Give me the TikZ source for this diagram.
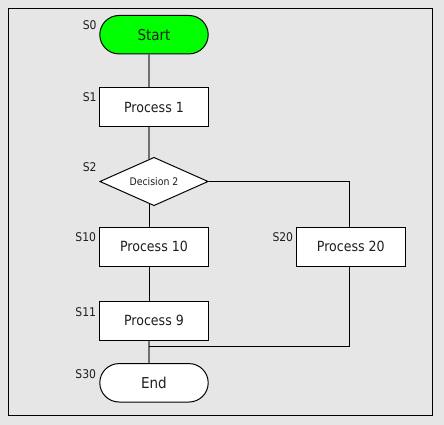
\documentclass[tikz,border=0pt]{standalone}
\usepackage{fontspec}
\setmainfont{DejaVu Sans Condensed}
\usetikzlibrary{shapes.geometric}
\definecolor{fondo}{HTML}{E6E6E6}
\definecolor{verde}{HTML}{00FF00}
\definecolor{linea}{HTML}{707070}
\definecolor{texto}{HTML}{1E1E1E}
\tikzset{
  caja/.style={draw=black, line width=1pt, fill=white, inner sep=0pt,
    minimum width=108.4pt, minimum height=38.4pt,
    font=\fontsize{14}{16}\selectfont, text=texto},
  terminal/.style={caja, rounded corners=19.2pt, font=\fontsize{15}{17}\selectfont},
  rombo/.style={diamond, aspect=2.2, draw=black, line width=1pt, fill=white, inner sep=0pt,
    minimum width=108.4pt, minimum height=48.4pt,
    font=\fontsize{10.4}{12}\selectfont, text=texto},
  etiq/.style={anchor=east, inner sep=0pt, font=\fontsize{12}{14}\selectfont, text=texto},
  gris/.style={draw=linea, line width=2pt},
  negra/.style={draw=black, line width=1.1pt}
}

\begin{document}
\begin{tikzpicture}[x=1pt,y=-1pt]
  \fill[fondo] (0,0) rectangle (444,425);
  \draw[line width=1.3pt] (8.3,8.3) rectangle (432.7,415.3);
  \coordinate (col)   at (149,0);
  \coordinate (colb)  at (149.5,0);
  \coordinate (rama)  at (349.5,0);
  \coordinate (junta) at (149,346.5);
  \node[terminal, fill=verde] (start) at (154,34.7)    {Start};
  \node[caja]                 (p1)    at (154,107)     {Process 1};
  \node[rombo]                (d2)    at (154,181.5)   {Decision 2};
  \node[caja]                 (p10)   at (154,246.8)   {Process 10};
  \node[caja]                 (p20)   at (350.8,246.8) {Process 20};
  \node[caja]                 (p9)    at (154,320.8)   {Process 9};
  \node[terminal]             (fin)   at (154,382.8)   {End};
  \node[etiq] (s0)  at (96.7,25.5)  {S0};
  \node[etiq] (s1)  at (96.7,97)    {S1};
  \node[etiq] (s2)  at (96.7,167)   {S2};
  \node[etiq] (s10) at (96.2,237)   {S10};
  \node[etiq] (s20) at (293.3,237)  {S20};
  \node[etiq] (s11) at (96.2,312)   {S11};
  \node[etiq] (s30) at (96.2,374)   {S30};
  \draw[gris]  (start.south -| col) -- (p1.north -| col);
  \draw[gris]  (p1.south -| d2.102.8) -- (d2.102.8);
  \draw[negra] (d2.258) -- (p10.north -| d2.258);
  \draw[negra] (p10.south -| colb) -- (p9.north -| colb);
  \draw[gris]  (p9.south -| col) -- (fin.north -| col);
  \draw[negra] (d2.east) -- (d2.east -| rama) -- (p20.north -| rama);
  \draw[negra] (p20.south -| rama) |- (junta);
\end{tikzpicture}
\end{document}
